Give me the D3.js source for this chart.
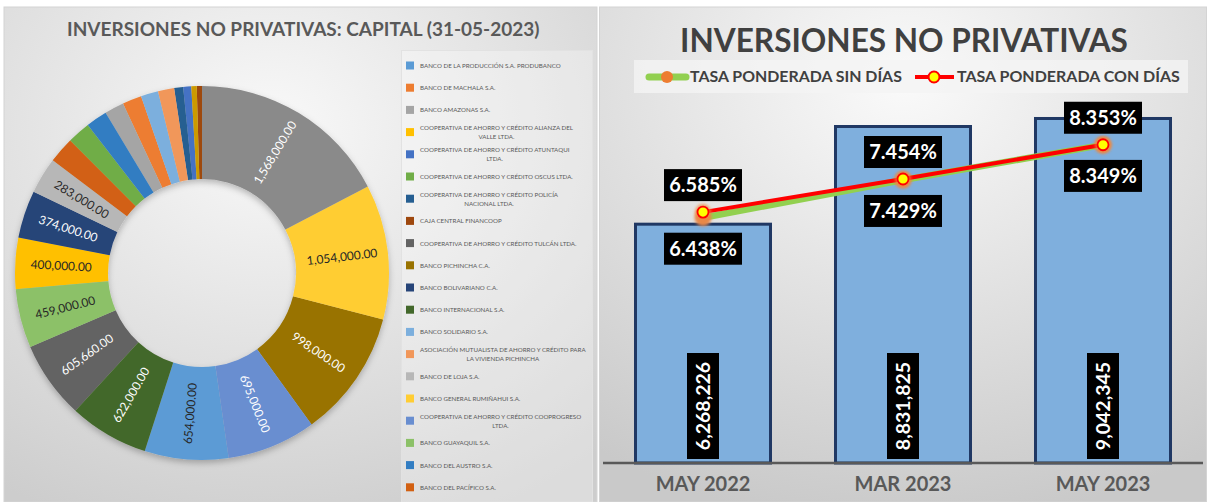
<!DOCTYPE html>
<html>
<head>
<meta charset="utf-8">
<script src="https://cdn.jsdelivr.net/npm/d3@7"></script>
<style>
  body { margin: 0; background: #fff; }
  svg { display: block; }
  text { font-family: Lato, "Open Sans", "DejaVu Sans", sans-serif; }
</style>
</head>
<body>
<svg id="chart" width="1211" height="502"></svg>
<script>
// Inversiones no privativas — dona de capital por entidad + barras/lineas de tasas

// entidades en el orden de la leyenda (los dos últimos quedan fuera del recuadro)
const entidades = [
  "BANCO DE LA PRODUCCIÓN S.A. PRODUBANCO",
  "BANCO DE MACHALA S.A.",
  "BANCO AMAZONAS S.A.",
  "COOPERATIVA DE AHORRO Y CRÉDITO ALIANZA DEL VALLE LTDA.",
  "COOPERATIVA DE AHORRO Y CRÉDITO ATUNTAQUI LTDA.",
  "COOPERATIVA DE AHORRO Y CRÉDITO OSCUS LTDA.",
  "COOPERATIVA DE AHORRO Y CRÉDITO POLICÍA NACIONAL LTDA.",
  "CAJA CENTRAL FINANCOOP",
  "COOPERATIVA DE AHORRO Y CRÉDITO TULCÁN LTDA.",
  "BANCO PICHINCHA C.A.",
  "BANCO BOLIVARIANO C.A.",
  "BANCO INTERNACIONAL S.A.",
  "BANCO SOLIDARIO S.A.",
  "ASOCIACIÓN MUTUALISTA DE AHORRO Y CRÉDITO PARA LA VIVIENDA PICHINCHA",
  "BANCO DE LOJA S.A.",
  "BANCO GENERAL RUMIÑAHUI S.A.",
  "COOPERATIVA DE AHORRO Y CRÉDITO COOPROGRESO LTDA.",
  "BANCO GUAYAQUIL S.A.",
  "BANCO DEL AUSTRO S.A.",
  "BANCO DEL PACÍFICO S.A.",
  "ENTIDAD 21",
  "ENTIDAD 22"
];
const coloresEntidad = [
  "#5B9BD5", "#ED7D31", "#A5A5A5", "#FFC000", "#4472C4", "#70AD47",
  "#255E91", "#9E480E", "#636363", "#997300", "#264478", "#43682B",
  "#7CAFDD", "#F1975A", "#B7B7B7", "#FFCD33", "#698ED0", "#8CC168",
  "#327DC2", "#D26012", "#8A8A8A", "#CC9A00"
];
const capital = [
  654000, 150000, 152000, 400000, 63000, 181000,
  70000, 40685, 605660, 998000, 374000, 622000,
  136000, 126000, 283000, 1054000, 695000, 459000,
  166000, 203000, 1568000, 42000
];

const meses = ["MAY 2022", "MAR 2023", "MAY 2023"];
const montoTotal = [6268226, 8831825, 9042345];
const tasaSinDias = [6.438, 7.429, 8.349];
const tasaConDias = [6.585, 7.454, 8.353];

const svg = d3.select("#chart");
const defs = svg.append("defs");

// ajusta el tamaño de letra para que el texto ocupe el ancho indicado
function ajustar(sel, ancho) {
  const fs = parseFloat(sel.attr("font-size"));
  sel.attr("font-size", fs * ancho / sel.node().getComputedTextLength());
}

// ---------- fondos ----------
const gradIzq = defs.append("radialGradient").attr("id", "fondoIzq")
  .attr("cx", "45%").attr("cy", "25%").attr("r", "85%");
gradIzq.append("stop").attr("offset", "0%").attr("stop-color", "#f9f9f9");
gradIzq.append("stop").attr("offset", "100%").attr("stop-color", "#cdcdcd");
const gradDer = defs.append("radialGradient").attr("id", "fondoDer")
  .attr("cx", "50%").attr("cy", "15%").attr("r", "90%");
gradDer.append("stop").attr("offset", "0%").attr("stop-color", "#fafafa");
gradDer.append("stop").attr("offset", "100%").attr("stop-color", "#c9c9c9");

const sombra = defs.append("filter").attr("id", "sombra")
  .attr("x", "-20%").attr("y", "-20%").attr("width", "140%").attr("height", "140%");
sombra.append("feDropShadow").attr("dx", 0).attr("dy", 3).attr("stdDeviation", 3)
  .attr("flood-color", "#000").attr("flood-opacity", 0.25);
const brillo = defs.append("filter").attr("id", "brillo")
  .attr("x", "-100%").attr("y", "-100%").attr("width", "300%").attr("height", "300%");
brillo.append("feGaussianBlur").attr("stdDeviation", 1.6);

svg.append("rect").attr("x", 4).attr("y", 7).attr("width", 593).attr("height", 495)
  .attr("fill", "url(#fondoIzq)").attr("stroke", "#d4d4d4");
svg.append("rect").attr("x", 599.5).attr("y", 7).attr("width", 607).attr("height", 495)
  .attr("fill", "url(#fondoDer)").attr("stroke", "#d4d4d4");

// ---------- dona ----------
const tituloIzq = svg.append("text").attr("x", 67).attr("y", 36)
  .attr("font-size", 18).attr("font-weight", 700).attr("fill", "#595959")
  .text("INVERSIONES NO PRIVATIVAS: CAPITAL (31-05-2023)");
ajustar(tituloIzq, 473);

const datosDona = entidades.map((n, i) => ({ nombre: n, valor: capital[i], color: coloresEntidad[i] }));
const pie = d3.pie().value(d => d.valor).sort((a, b) => b.valor - a.valor);
const arcos = pie(datosDona);
const R = 187, r = 94;
const arco = d3.arc().innerRadius(r).outerRadius(R);
const arcoEtiqueta = d3.arc().innerRadius(141).outerRadius(141);

const dona = svg.append("g").attr("transform", "translate(202,273)");
dona.append("g").attr("filter", "url(#sombra)")
  .selectAll("path").data(arcos).enter().append("path")
  .attr("d", arco).attr("fill", d => d.data.color);

const fmtCapital = d3.format(",.2f");
function luminancia(c) {
  const k = d3.rgb(c);
  return (0.2126 * k.r + 0.7152 * k.g + 0.0722 * k.b) / 255;
}
dona.selectAll(".etq").data(arcos.filter(d => d.data.valor >= 250000)).enter().append("text")
  .attr("class", "etq")
  .attr("transform", d => {
    const [x, y] = arcoEtiqueta.centroid(d);
    const m = (d.startAngle + d.endAngle) / 2 * 180 / Math.PI;
    const rot = m < 180 ? m - 90 : m - 270;
    return "translate(" + x + "," + y + ") rotate(" + rot + ")";
  })
  .attr("text-anchor", "middle").attr("dy", "0.35em")
  .attr("font-size", 12)
  .attr("fill", d => luminancia(d.data.color) > 0.55 ? "#262626" : "#ffffff")
  .text(d => fmtCapital(d.data.valor));

// leyenda de la dona
const leyIzq = svg.append("g");
defs.append("clipPath").attr("id", "corteLey").append("rect")
  .attr("x", 400).attr("y", 50).attr("width", 194).attr("height", 447);
leyIzq.append("rect").attr("x", 401.5).attr("y", 50.5).attr("width", 191).attr("height", 452)
  .attr("fill", "#ffffff").attr("fill-opacity", 0.3).attr("stroke", "#e2e2e2");
const itemsLey = leyIzq.append("g").attr("clip-path", "url(#corteLey)");

const prueba = itemsLey.append("text").attr("font-size", 10).text(entidades[0]);
const fsLey = 10 * 141 / prueba.node().getComputedTextLength();
prueba.remove();

entidades.forEach((nombre, i) => {
  const cy = 65.5 + i * 22.2;
  if (cy > 502) return;
  const item = itemsLey.append("g");
  item.append("rect").attr("x", 406).attr("y", cy - 4).attr("width", 8).attr("height", 8)
    .attr("fill", coloresEntidad[i]);
  // ajuste de líneas como en la leyenda original
  const t = item.append("text").attr("font-size", fsLey).attr("fill", "#595959");
  const palabras = nombre.split(" ");
  const lineas = [];
  let actual = "";
  palabras.forEach(p => {
    const prueba = actual ? actual + " " + p : p;
    t.text(prueba);
    if (t.node().getComputedTextLength() > 166 && actual) { lineas.push(actual); actual = p; }
    else actual = prueba;
  });
  lineas.push(actual);
  t.text(null);
  if (lineas.length === 1) {
    t.attr("x", 420).attr("y", cy + 2.4).text(lineas[0]);
  } else {
    t.text(lineas[0]);
    const w1 = t.node().getComputedTextLength();
    t.text(null).attr("text-anchor", "middle");
    lineas.forEach((l, j) => {
      t.append("tspan").attr("x", 420 + w1 / 2).attr("y", cy - 2.2 + j * 9).text(l);
    });
  }
});

// ---------- barras y tasas ----------
const tituloDer = svg.append("text").attr("x", 904).attr("y", 52).attr("text-anchor", "middle")
  .attr("font-size", 34).attr("font-weight", 700).attr("fill", "#404040")
  .text("INVERSIONES NO PRIVATIVAS");
ajustar(tituloDer, 448);

const x = d3.scaleBand().domain(meses).range([603, 1203]).paddingInner(0.325).paddingOuter(0.1625);
const y = d3.scaleLinear().domain([0, 10000000]).range([463, 82]);
const yTasa = d3.scaleLinear().domain([0, 10]).range([463, 82]);
const cx = m => x(m) + x.bandwidth() / 2;

// leyenda de líneas
const leyDer = svg.append("g");
leyDer.append("rect").attr("x", 634).attr("y", 60).attr("width", 554).attr("height", 33)
  .attr("fill", "#f4f4f4").attr("fill-opacity", 0.8);
leyDer.append("line").attr("x1", 649).attr("x2", 686).attr("y1", 77).attr("y2", 77)
  .attr("stroke", "#92D050").attr("stroke-width", 7).attr("stroke-linecap", "round");
leyDer.append("circle").attr("cx", 667).attr("cy", 77).attr("r", 6).attr("fill", "#ED7D31");
const leyT1 = leyDer.append("text").attr("x", 690).attr("y", 82)
  .attr("font-size", 18).attr("font-weight", 700).attr("fill", "#404040")
  .text("TASA PONDERADA SIN DÍAS");
ajustar(leyT1, 212);
leyDer.append("line").attr("x1", 915).attr("x2", 954).attr("y1", 77).attr("y2", 77)
  .attr("stroke", "#FF0000").attr("stroke-width", 4);
leyDer.append("circle").attr("cx", 934).attr("cy", 77).attr("r", 5.5)
  .attr("fill", "#FFFF00").attr("stroke", "#FF0000").attr("stroke-width", 2);
const leyT2 = leyDer.append("text").attr("x", 957).attr("y", 82)
  .attr("font-size", 18).attr("font-weight", 700).attr("fill", "#404040")
  .text("TASA PONDERADA CON DÍAS");
ajustar(leyT2, 223);

// barras
svg.append("g").selectAll("rect").data(meses).enter().append("rect")
  .attr("x", d => x(d)).attr("width", x.bandwidth())
  .attr("y", (d, i) => y(montoTotal[i])).attr("height", (d, i) => y(0) - y(montoTotal[i]))
  .attr("fill", "#7FAFDD").attr("stroke", "#203864").attr("stroke-width", 3);

// eje x
const ejeX = svg.append("g").attr("transform", "translate(0," + y(0) + ")")
  .call(d3.axisBottom(x).tickSize(0).tickPadding(14));
ejeX.select(".domain").attr("d", "M603,0H1203").attr("stroke", "#595959").attr("stroke-width", 2.5);
ejeX.selectAll("text").attr("font-size", 20).attr("font-weight", 700).attr("fill", "#595959")
  .attr("font-family", null);

// etiquetas verticales de montos
const fmtMonto = d3.format(",");
const etqMonto = svg.append("g").selectAll("g").data(meses).enter().append("g")
  .attr("transform", d => "translate(" + cx(d) + ",406) rotate(-90)");
etqMonto.append("rect").attr("x", -53).attr("y", -16).attr("width", 106).attr("height", 32).attr("fill", "#000");
etqMonto.append("text").attr("text-anchor", "middle").attr("y", 7)
  .attr("font-size", 19.5).attr("font-weight", 700).attr("fill", "#fff")
  .text((d, i) => fmtMonto(montoTotal[i]));

// líneas
const linea = d3.line().x((d, i) => cx(meses[i])).y(d => yTasa(d));
svg.append("path").datum(tasaSinDias).attr("d", linea).attr("fill", "none")
  .attr("stroke", "#92D050").attr("stroke-width", 6.5).attr("stroke-linecap", "round");
svg.append("g").selectAll("circle").data(tasaSinDias).enter().append("circle")
  .attr("cx", (d, i) => cx(meses[i])).attr("cy", d => yTasa(d)).attr("r", 8.5)
  .attr("fill", "#E8884A").attr("filter", "url(#brillo)");
svg.append("path").datum(tasaConDias).attr("d", linea).attr("fill", "none")
  .attr("stroke", "#FF0000").attr("stroke-width", 4);
const marcasCon = svg.append("g").selectAll("g").data(tasaConDias).enter().append("g")
  .attr("transform", (d, i) => "translate(" + cx(meses[i]) + "," + yTasa(d) + ")");
marcasCon.append("circle").attr("r", 8).attr("fill", "#F08A3C").attr("opacity", 0.8).attr("filter", "url(#brillo)");
marcasCon.append("circle").attr("r", 5.5).attr("fill", "#FFFF00").attr("stroke", "#FF0000").attr("stroke-width", 1.8);

// etiquetas de tasas
const fmtTasa = v => v.toFixed(3) + "%";
function etiquetasTasa(valores, arriba) {
  const g = svg.append("g").selectAll("g").data(valores).enter().append("g")
    .attr("transform", (d, i) => {
      const cyBox = arriba ? yTasa(d) - 11 - 16 : yTasa(d) + 15 + 16;
      return "translate(" + cx(meses[i]) + "," + cyBox + ")";
    });
  g.append("rect").attr("x", -39).attr("y", -16).attr("width", 78).attr("height", 32).attr("fill", "#000");
  g.append("text").attr("text-anchor", "middle").attr("y", 7)
    .attr("font-size", 20).attr("font-weight", 700).attr("fill", "#fff")
    .text(fmtTasa);
}
etiquetasTasa(tasaConDias, true);
etiquetasTasa(tasaSinDias, false);
</script>
</body>
</html>
